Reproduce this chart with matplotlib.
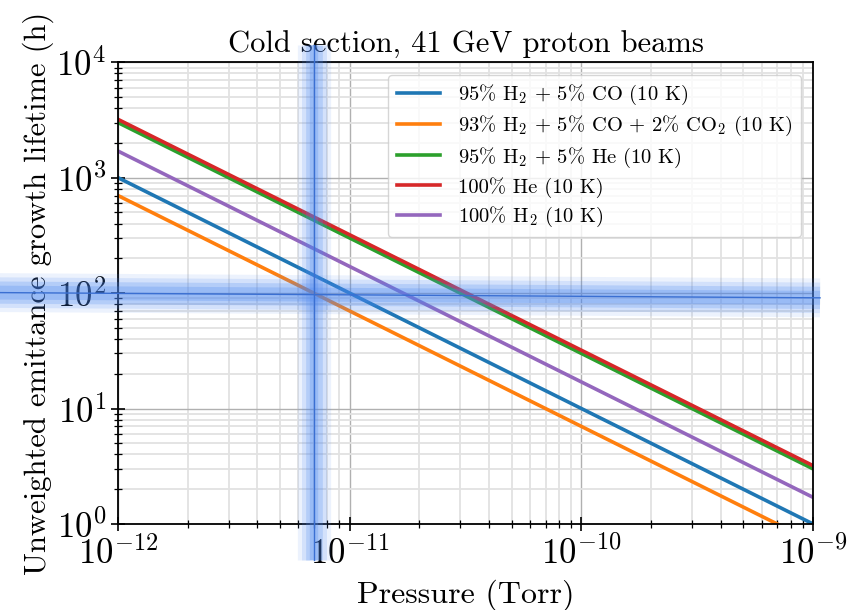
import matplotlib
matplotlib.use('Agg')
import matplotlib.pyplot as plt
import matplotlib.transforms as mtransforms
import numpy as np

plt.rcParams['font.family'] = 'serif'
plt.rcParams['font.serif'] = ['cmr10']
plt.rcParams['mathtext.fontset'] = 'cm'
plt.rcParams['axes.formatter.use_mathtext'] = True
plt.rcParams['axes.unicode_minus'] = False

pressure = [1e-12, 1e-9]
labels = [
    r'95% H$_2$ + 5% CO (10 K)',
    r'93% H$_2$ + 5% CO + 2% CO$_2$ (10 K)',
    r'95% H$_2$ + 5% He (10 K)',
    r'100% He (10 K)',
    r'100% H$_2$ (10 K)',
]
lifetimes = [
    [1000, 1.0],
    [700, 0.7],
    [3000, 3.0],
    [3200, 3.2],
    [1700, 1.7],
]
colors = ['tab:blue', 'tab:orange', 'tab:green', 'tab:red', 'tab:purple']

# marked point: where the orange curve reaches 100 h
mark_pressure = 7e-12
mark_lifetime = [101, 91]

fig = plt.figure(figsize=(8.55, 6.1), dpi=100)
ax = fig.add_axes([0.138, 0.141, 0.813, 0.757])

for y, lab, c in zip(lifetimes, labels, colors):
    ax.plot(pressure, y, color=c, lw=2.6, label=lab)

ax.set_xscale('log')
ax.set_yscale('log')
ax.set_xlim(1e-12, 1e-9)
ax.set_ylim(1, 1e4)
ax.grid(True, which='major', color='#b0b0b0', lw=1.0)
ax.grid(True, which='minor', color='#e2e2e2', lw=1.3)
ax.set_axisbelow(True)
ax.tick_params(which='major', direction='inout', length=10, width=1.2, labelsize=25)
ax.tick_params(which='minor', direction='inout', length=6, width=0.9)
for s in ax.spines.values():
    s.set_linewidth(1.3)

ax.set_title('Cold section, 41 GeV proton beams', fontsize=22, pad=7)
ax.set_xlabel('Pressure (Torr)', fontsize=23, labelpad=6)
ax.set_ylabel('Unweighted emittance growth lifetime (h)', fontsize=22, labelpad=2)

ax.legend(loc='upper right', fontsize=14.8, handlelength=2.1, handletextpad=0.9,
          borderaxespad=0.6, labelspacing=0.35, framealpha=0.8, edgecolor='#cccccc')

# highlight glow
vtrans = mtransforms.blended_transform_factory(ax.transData, ax.transAxes)
htrans = mtransforms.blended_transform_factory(ax.transAxes, ax.transData)
for lw, a in [(24, 0.10), (18, 0.15), (12, 0.22), (6, 0.25)]:
    ax.plot([mark_pressure, mark_pressure], [-0.078, 1.037], transform=vtrans,
            color='#4a86f0', lw=lw, alpha=a, clip_on=False, solid_capstyle='butt', zorder=5)
    ax.plot([-0.17, 1.01], mark_lifetime, transform=htrans,
            color='#4a86f0', lw=lw + 4, alpha=a, clip_on=False, solid_capstyle='butt', zorder=5)
ax.plot([mark_pressure, mark_pressure], [-0.078, 1.037], transform=vtrans,
        color='#3a6fd2', lw=1.0, clip_on=False, zorder=6)
ax.plot([-0.17, 1.01], mark_lifetime, transform=htrans,
        color='#3a6fd2', lw=1.0, clip_on=False, zorder=6)

fig.savefig('out.png', dpi=100)
